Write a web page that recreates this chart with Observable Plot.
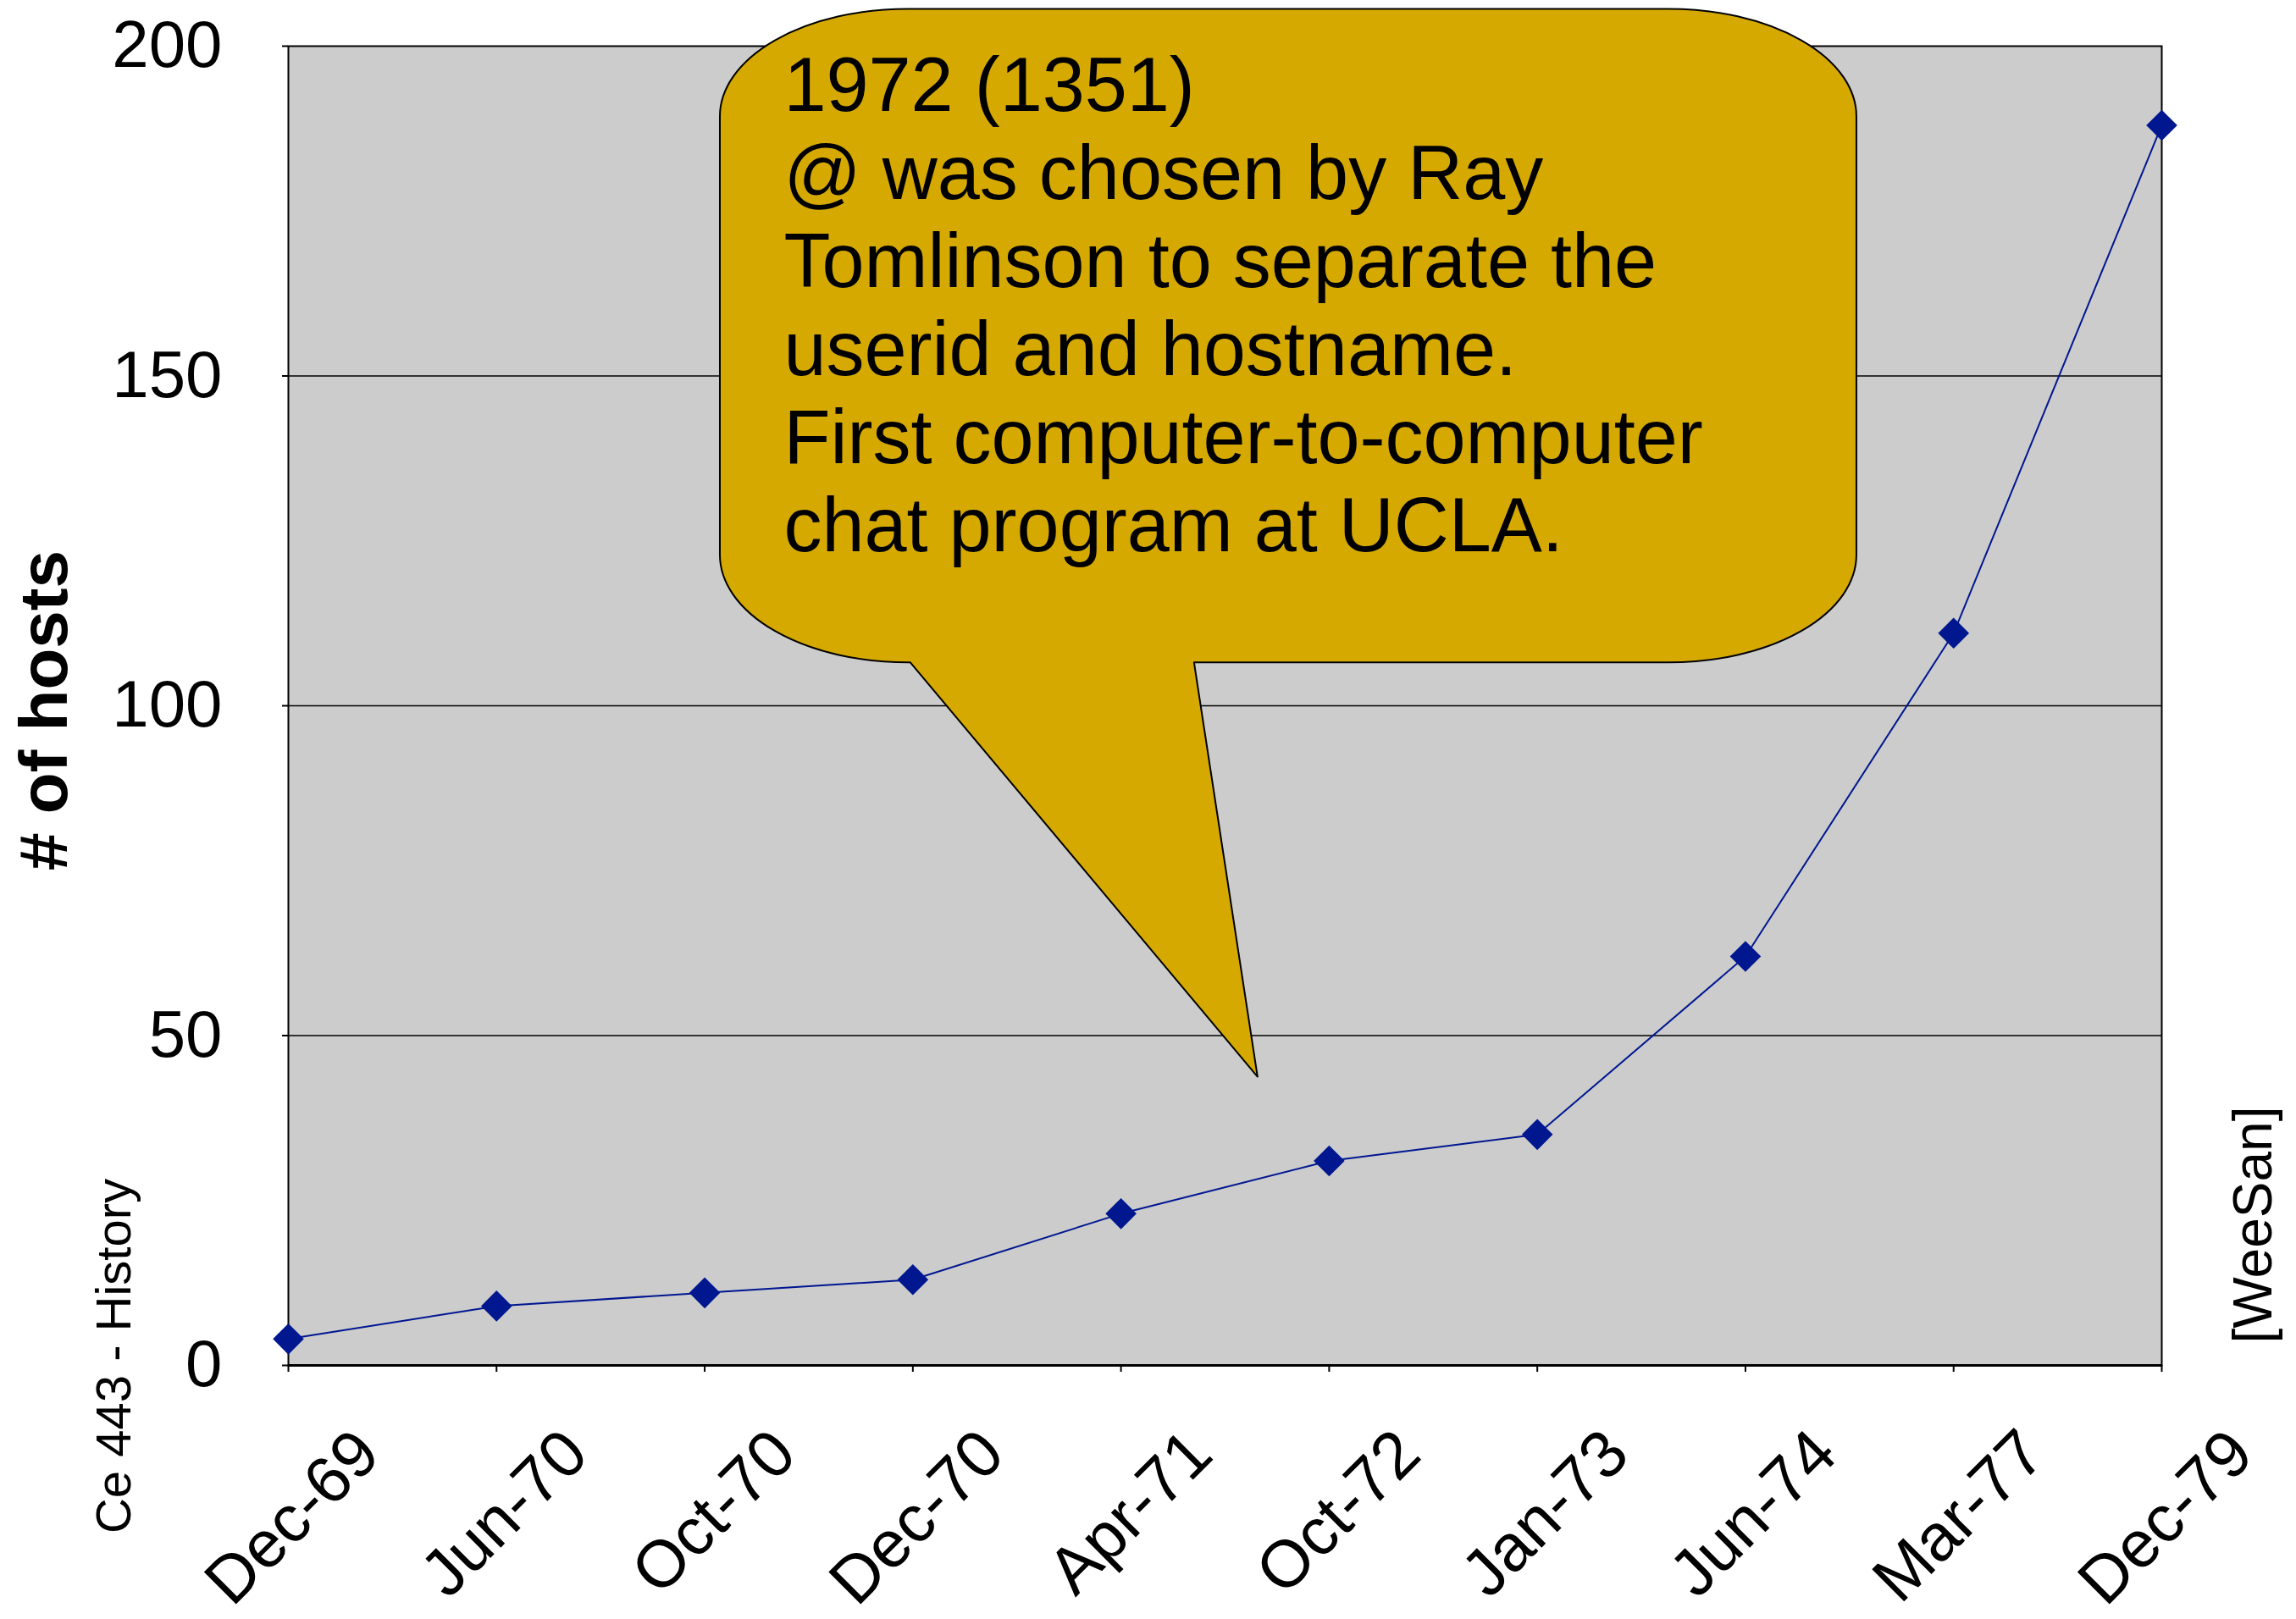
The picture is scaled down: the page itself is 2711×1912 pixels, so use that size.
<!DOCTYPE html>
<html><head><meta charset="utf-8">
<script src="https://cdn.jsdelivr.net/npm/d3@7"></script>
<script src="https://cdn.jsdelivr.net/npm/@observablehq/plot@0.6"></script>
<style>html,body{margin:0;padding:0;background:#fff;}</style>
</head><body><div id="chart"></div>
<script>
// ---- data ----
const categories = ["Dec-69","Jun-70","Oct-70","Dec-70","Apr-71","Oct-72","Jan-73","Jun-74","Mar-77","Dec-79"];
const hosts = [4, 9, 11, 13, 23, 31, 35, 62, 111, 188];
const yTicks = [0, 50, 100, 150, 200];
const gridValues = [50, 100, 150];
const calloutLines = [
  "1972 (1351)",
  "@ was chosen by Ray",
  "Tomlinson to separate the",
  "userid and hostname.",
  "First computer-to-computer",
  "chat program at UCLA."
];
const yLabel = "# of hosts";
const leftNote = "Ce 443 - History";
const rightNote = "[WeeSan]";

// ---- derived ----
const data = categories.map((c, i) => ({i, c, v: hosts[i]}));
const idx = categories.map((c, i) => i);
const font = "'Liberation Sans', Arial, Helvetica, sans-serif";
const navy = "#001790";

// callout geometry in data units (x = category index, y = hosts)
const callout = {x1: 2.075, x2: 7.535, yTop: 205.6, yBottom: 106.5,
  tailX1: 2.99, tailX2: 4.353, tipX: 4.658, tipY: 43.7, textX: 2.38, textY: 199.7};
const calloutR = {rx: 222, ry: 127};

function bubble(index, scales) {
  const {x, y} = scales;
  const X1 = x(callout.x1), X2 = x(callout.x2), T = y(callout.yTop), B = y(callout.yBottom);
  const {rx, ry} = calloutR;
  const d = `M${X1+rx},${T} L${X2-rx},${T} A${rx},${ry} 0 0 1 ${X2},${T+ry} L${X2},${B-ry} A${rx},${ry} 0 0 1 ${X2-rx},${B} L${x(callout.tailX2)},${B} L${x(callout.tipX)},${y(callout.tipY)} L${x(callout.tailX1)},${B} L${X1+rx},${B} A${rx},${ry} 0 0 1 ${X1},${B-ry} L${X1},${T+ry} A${rx},${ry} 0 0 1 ${X1+rx},${T} Z`;
  const p = document.createElementNS("http://www.w3.org/2000/svg", "path");
  p.setAttribute("d", d);
  p.setAttribute("fill", "#d5a900");
  p.setAttribute("stroke", "black");
  p.setAttribute("stroke-width", "2");
  p.setAttribute("stroke-linejoin", "round");
  return p;
}

const chart = Plot.plot({
  width: 2711, height: 1912,
  marginLeft: 340, marginRight: 159, marginTop: 54, marginBottom: 300,
  x: {type: "linear", domain: [0, 9], label: null},
  y: {domain: [0, 200], label: null},
  style: {fontFamily: font, background: "white", color: "black", overflow: "visible"},
  marks: [
    Plot.frame({fill: "#cccccc"}),
    Plot.gridY({ticks: gridValues, stroke: "black", strokeOpacity: 1, strokeWidth: 1.6}),
    Plot.frame({stroke: "black", strokeWidth: 2}),
    Plot.ruleY([0], {stroke: "black", strokeWidth: 3}),
    Plot.axisY({ticks: yTicks, tickSize: 7, tickPadding: 71, fontSize: 78, tickFormat: d => String(d), strokeWidth: 2}),
    Plot.axisX({ticks: idx, tickSize: 8, tickFormat: () => "", strokeWidth: 2}),
    Plot.axisX({ticks: idx, tickSize: 0, tickPadding: 0, tickRotate: -45, textAnchor: "end", lineAnchor: "middle",
      dx: 94, dy: 91, fontSize: 78, tickFormat: i => categories[i]}),
    Plot.line(data, {x: "i", y: "v", stroke: navy, strokeWidth: 2}),
    Plot.dot(data, {x: "i", y: "v", symbol: "diamond2", r: 16.5, fill: navy, stroke: "none"}),
    bubble,
    Plot.text([calloutLines.join("\n")], {x: callout.textX, y: callout.textY, textAnchor: "start", lineAnchor: "top",
      lineHeight: 1.156, fontSize: 90, fill: "black"}),
    Plot.text([yLabel], {frameAnchor: "left", rotate: -90, dx: -262, dy: 5.5, fontSize: 80, fontWeight: "bold",
      lineAnchor: "bottom", textAnchor: "middle", fill: "black"}),
    Plot.text([leftNote], {frameAnchor: "bottom-left", rotate: -90, dx: -187, dy: -11, fontSize: 58,
      lineAnchor: "bottom", textAnchor: "middle", fill: "black"}),
    Plot.text([rightNote], {frameAnchor: "bottom-right", rotate: -90, dx: 129, dy: -166, fontSize: 64,
      lineAnchor: "bottom", textAnchor: "middle", fill: "black"})
  ]
});
document.getElementById("chart").appendChild(chart);
</script>
</body></html>
